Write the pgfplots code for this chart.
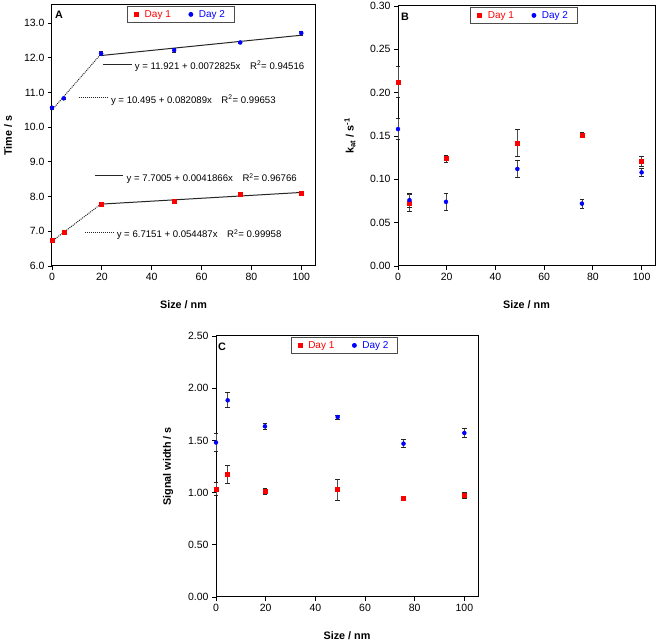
\documentclass[border=0pt]{standalone}
\usepackage{fontspec}
\setmainfont{Liberation Sans}
\usepackage{pgfplots}
\pgfplotsset{compat=1.18}

\newcommand{\lblfont}{\fontsize{10.8}{12}\selectfont\bfseries}
\pgfplotsset{
  panel/.style={
    scale only axis,
    clip=false,
    xmin=0, xmax=105.5,
    xtick={0,20,40,60,80,100},
    tick align=outside,
    xtick pos=bottom, ytick pos=left,
    major tick length=4pt,
    tick style={black, line width=0.8pt},
    axis line style={line width=1pt},
    tick label style={font=\fontsize{10.5}{12}\selectfont},
    /pgf/number format/assume math mode=true,
    xlabel={Size / nm},
    every axis x label/.style={at={(axis description cs:0.5,-0.148)}, anchor=center, font=\lblfont},
    legend style={at={(axis description cs:0.49,0.997)}, anchor=north, legend columns=2,
      draw=black!70, line width=0.8pt, font=\fontsize{10}{11}\selectfont,
      /tikz/every odd column/.append style={column sep=4pt},
      /tikz/every even column/.append style={column sep=16pt}, inner ysep=2pt, inner xsep=7pt},
    legend cell align=left,
  },
  errs/.style={only marks, mark size=2pt,
    error bars/y dir=both, error bars/y explicit,
    error bars/error bar style={black!70, line width=0.8pt},
    error bars/error mark options={rotate=90, black!85, mark size=2.2pt, line width=0.8pt}},
  fitline/.style={black!85, line width=1pt, forget plot},
  fitdot/.style={black!85, line width=1pt, densely dotted, forget plot},
}

\begin{document}
\begin{tikzpicture}
\useasboundingbox (0,0) rectangle (661pt,642pt);

% ---------------- Panel A ----------------
\begin{axis}[panel,
  at={(52pt,376pt)}, anchor=south west, width=263pt, height=261pt,
  ymin=6, ymax=13.52, ytick={6,7,...,13},
  yticklabel style={/pgf/number format/.cd, fixed, fixed zerofill, precision=1},
  ylabel={Time / s},
  every axis y label/.style={at={(axis description cs:-0.167,0.5)}, rotate=90, anchor=center, font=\lblfont},
]
\addlegendimage{only marks, mark=square*, red, mark size=2pt}
\addlegendentry{\textcolor{red}{Day 1}}
\addlegendimage{only marks, mark=*, blue, mark size=2pt}
\addlegendentry{\textcolor{blue}{Day 2}}

% fit lines
\addplot[fitline] coordinates {(19.7,12.064) (100,12.649)};
\addplot[fitdot] coordinates {(0,10.495) (19.7,12.112)};
\addplot[fitline] coordinates {(19.7,7.783) (100,8.119)};
\addplot[fitdot] coordinates {(0,6.715) (19.7,7.788)};

% Day 2
\addplot[errs, mark=*, blue, forget plot] coordinates {
 (0,10.56) +- (0,0.05)
 (4.7,10.83) +- (0,0.03)
 (19.7,12.12) +- (0,0.05)
 (49,12.22) +- (0,0.06)
 (75.5,12.44) +- (0,0.02)
 (100,12.71) +- (0,0.06)
};
% Day 1
\addplot[errs, mark=square*, red, forget plot] coordinates {
 (0,6.73) +- (0,0.06)
 (4.7,6.96) +- (0,0.03)
 (19.7,7.79) +- (0,0.02)
 (49,7.875) +- (0,0.02)
 (75.5,8.06) +- (0,0.04)
 (100,8.10) +- (0,0.02)
};

% annotation sample lines
\addplot[fitline] coordinates {(20.4,11.80) (31.9,11.80)};
\addplot[fitdot] coordinates {(10.7,10.85) (22.1,10.85)};
\addplot[fitline] coordinates {(17.2,8.60) (28.6,8.60)};
\addplot[fitdot] coordinates {(13.2,6.97) (24.5,6.97)};
\node[anchor=west, font=\fontsize{9.6}{11}\selectfont, inner sep=0pt] at (axis cs:33.2,11.76) {y = 11.921 + 0.0072825x\hspace{1em}R\textsuperscript{2}= 0.94516};
\node[anchor=west, font=\fontsize{9.6}{11}\selectfont, inner sep=0pt] at (axis cs:23.6,10.78) {y = 10.495 + 0.082089x\hspace{1em}R\textsuperscript{2}= 0.99653};
\node[anchor=west, font=\fontsize{9.6}{11}\selectfont, inner sep=0pt] at (axis cs:29.9,8.52) {y = 7.7005 + 0.0041866x\hspace{1em}R\textsuperscript{2}= 0.96766};
\node[anchor=west, font=\fontsize{9.6}{11}\selectfont, inner sep=0pt] at (axis cs:25.9,6.90) {y = 6.7151 + 0.054487x\hspace{1em}R\textsuperscript{2}= 0.99958};

\node[font=\lblfont] at (axis description cs:0.027,0.962) {A};
\end{axis}

% ---------------- Panel B ----------------
\begin{axis}[panel,
  at={(398pt,376pt)}, anchor=south west, width=257pt, height=260pt,
  ymin=0, ymax=0.30, ytick={0,0.05,...,0.30},
  yticklabel style={/pgf/number format/.cd, fixed, fixed zerofill, precision=2},
  ylabel={k\textsubscript{at} / s\textsuperscript{-1}},
  every axis y label/.style={at={(axis description cs:-0.187,0.5)}, rotate=90, anchor=center, font=\lblfont},
]
\addlegendimage{only marks, mark=square*, red, mark size=2pt}
\addlegendentry{\textcolor{red}{Day 1}}
\addlegendimage{only marks, mark=*, blue, mark size=2pt}
\addlegendentry{\textcolor{blue}{Day 2}}

\addplot[errs, mark=square*, red, forget plot] coordinates {
 (0,0.212) +- (0,0.018)
 (4.7,0.073) +- (0,0.010)
 (19.7,0.124) +- (0,0.004)
 (49,0.142) +- (0,0.016)
 (75.5,0.151) +- (0,0.003)
 (100,0.121) +- (0,0.006)
};
\addplot[errs, mark=*, blue, forget plot] coordinates {
 (0,0.158) +- (0,0.012)
 (4.7,0.076) +- (0,0.008)
 (19.7,0.074) +- (0,0.010)
 (49,0.112) +- (0,0.010)
 (75.5,0.072) +- (0,0.005)
 (100,0.108) +- (0,0.005)
};
\node[font=\lblfont] at (axis description cs:0.027,0.96) {B};
\end{axis}

% ---------------- Panel C ----------------
\begin{axis}[panel,
  at={(216pt,45pt)}, anchor=south west, width=262pt, height=261pt,
  ymin=0, ymax=2.5, ytick={0,0.5,...,2.5},
  yticklabel style={/pgf/number format/.cd, fixed, fixed zerofill, precision=2},
  ylabel={Signal width / s},
  every axis y label/.style={at={(axis description cs:-0.183,0.5)}, rotate=90, anchor=center, font=\lblfont},
]
\addlegendimage{only marks, mark=square*, red, mark size=2pt}
\addlegendentry{\textcolor{red}{Day 1}}
\addlegendimage{only marks, mark=*, blue, mark size=2pt}
\addlegendentry{\textcolor{blue}{Day 2}}

\addplot[errs, mark=*, blue, forget plot] coordinates {
 (0,1.48) +- (0,0.085)
 (4.7,1.884) +- (0,0.072)
 (19.7,1.635) +- (0,0.025)
 (49,1.724) +- (0,0.02)
 (75.5,1.469) +- (0,0.04)
 (100,1.571) +- (0,0.045)
};
\addplot[errs, mark=square*, red, forget plot] coordinates {
 (0,1.035) +- (0,0.06)
 (4.7,1.175) +- (0,0.09)
 (19.7,1.015) +- (0,0.03)
 (49,1.028) +- (0,0.10)
 (75.5,0.951) +- (0,0.01)
 (100,0.974) +- (0,0.025)
};
\node[font=\lblfont] at (axis description cs:0.023,0.96) {C};
\end{axis}
\end{tikzpicture}
\end{document}
